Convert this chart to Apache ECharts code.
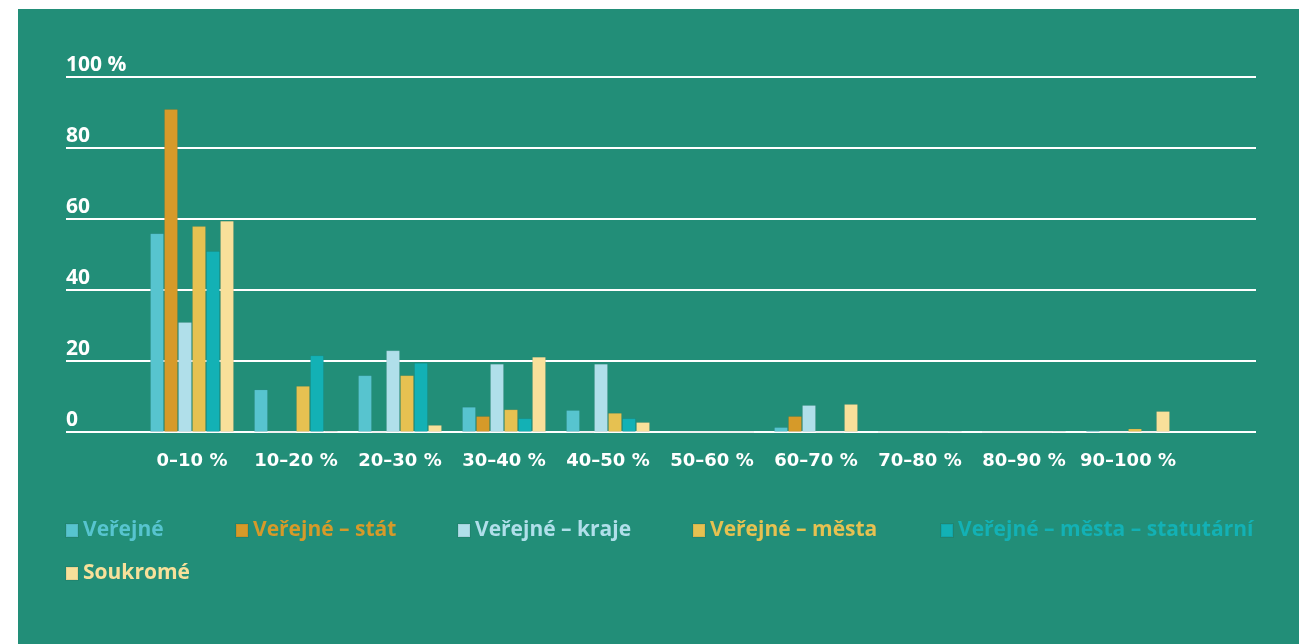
<!DOCTYPE html>
<html>
<head>
<meta charset="utf-8">
<script src="https://cdn.jsdelivr.net/npm/echarts@6/dist/echarts.min.js"></script>
<style>
html,body{margin:0;padding:0;background:#fff;}
#chart{width:1299px;height:644px;}
</style>
</head>
<body>
<div id="chart"></div>
<script>
const categories = ['0–10 %','10–20 %','20–30 %','30–40 %','40–50 %','50–60 %','60–70 %','70–80 %','80–90 %','90–100 %'];
const seriesNames = ['Veřejné','Veřejné – stát','Veřejné – kraje','Veřejné – města','Veřejné – města – statutární','Soukromé'];
const verejne     = [56, 12, 16, 7.1, 6.2, 0, 1.4, 0, 0, 0.5];
const verejneStat = [91, 0, 0, 4.5, 0, 0, 4.5, 0, 0, 0];
const verejneKraje= [31, 0, 23, 19.2, 19.2, 0, 7.6, 0, 0, 0];
const verejneMesta= [58, 13, 16, 6.4, 5.4, 0, 0, 0, 0, 1];
const verejneStatutarni = [51, 21.6, 19.5, 3.9, 3.9, 0, 0, 0, 0, 0];
const soukrome    = [59.5, 0.3, 2, 21.2, 2.8, 0, 7.9, 0.2, 0.2, 5.9];
const yTicks = [0, 20, 40, 60, 80, 100];

const seriesData = [verejne, verejneStat, verejneKraje, verejneMesta, verejneStatutarni, soukrome];
const colors = ['#57C4CF','#D69A29','#B0DFEA','#E6C151','#13B1B5','#F8E09A'];
const legendPos = [[60,515],[230,515],[452,515],[687,515],[935,515],[60,558]];
const FONT = 'Open Sans';

const chart = echarts.init(document.getElementById('chart'), null, {renderer:'canvas'});
const option = {
  animation: false,
  backgroundColor: 'transparent',
  graphic: [{
    type: 'rect', z: -10, silent: true,
    shape: {x: 18, y: 9, width: 1281, height: 635},
    style: {fill: '#228E78'}
  }],
  grid: [
    {left: 66, right: 43, top: 77, bottom: 212},
    {left: 140, right: 119, top: 77, bottom: 212}
  ],
  xAxis: [
    {type: 'value', gridIndex: 0, show: false, min: 0, max: 1},
    {type: 'category', gridIndex: 1, data: categories,
     axisLine: {show: false}, axisTick: {show: false},
     axisLabel: {interval: 0, color: '#fff', fontFamily: 'DejaVu Sans', fontWeight: 'bold', fontSize: 18, margin: 20}}
  ],
  yAxis: [
    {type: 'value', gridIndex: 0, min: yTicks[0], max: yTicks[yTicks.length-1], interval: 20,
     axisLine: {show: false}, axisTick: {show: false},
     splitLine: {show: true, lineStyle: {color: '#fff', width: 2}},
     axisLabel: {inside: true, margin: 0, color: '#fff', fontFamily: FONT, fontWeight: 'bold', fontSize: 21,
       verticalAlign: 'bottom', padding: [0,0,1,0],
       formatter: v => v === 100 ? '100 %' : String(v)}},
    {type: 'value', gridIndex: 1, min: 0, max: 100, show: false, splitLine: {show: false}}
  ],
  legend: seriesNames.map((n, i) => ({
    left: legendPos[i][0], top: legendPos[i][1],
    itemWidth: 12, itemHeight: 13, itemGap: 0, icon: 'rect',
    data: [{name: n, textStyle: {color: colors[i]}}],
    textStyle: {fontFamily: FONT, fontWeight: 'bold', fontSize: 21, color: colors[i]},
    selectedMode: false
  })),
  series: seriesNames.map((n, i) => ({
    name: n, type: 'bar', xAxisIndex: 1, yAxisIndex: 1,
    data: seriesData[i], barWidth: 14, barGap: '0%',
    itemStyle: {color: colors[i], borderColor: 'rgba(0,0,0,0.06)', borderWidth: 1}
  }))
};
chart.setOption(option);
</script>
</body>
</html>
